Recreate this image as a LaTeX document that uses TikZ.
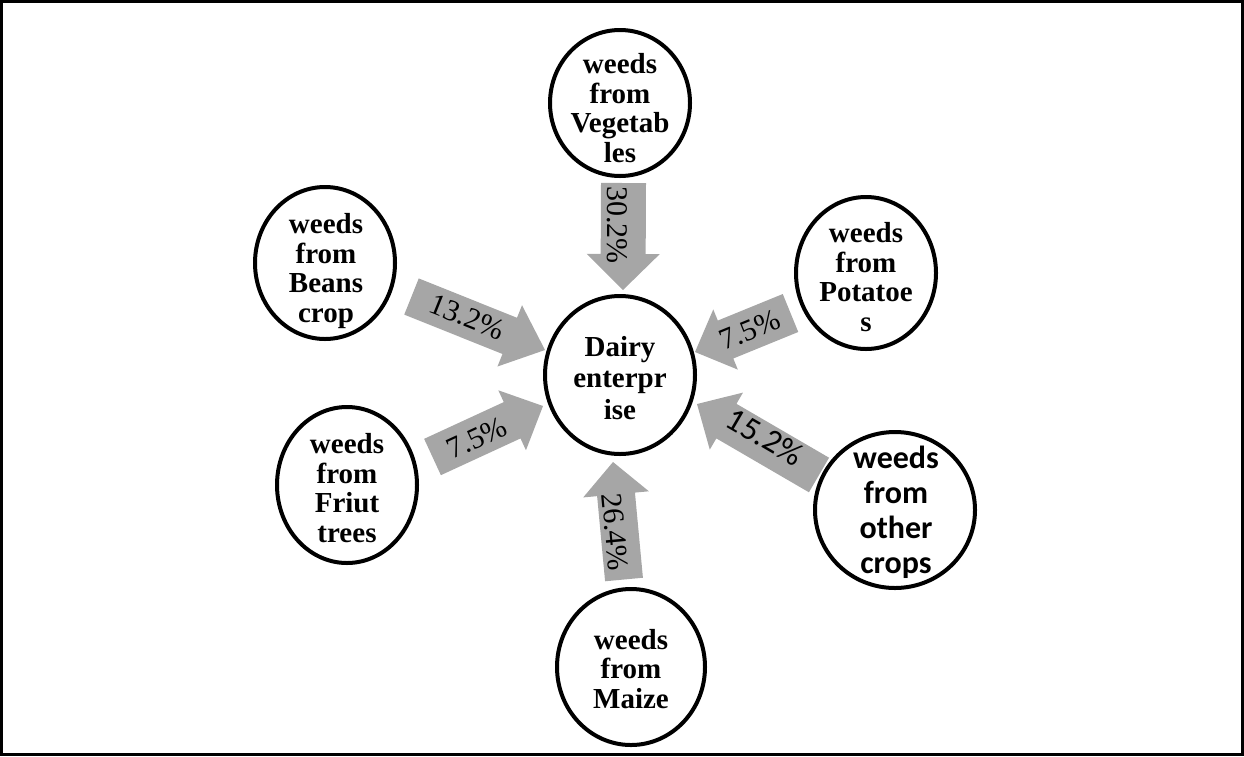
\documentclass[tikz,border=0pt]{standalone}
\usepackage{fontspec}
\setmainfont{Liberation Serif}
\newfontfamily\calib{Carlito}
\usetikzlibrary{calc,shapes.geometric}
\definecolor{arrgray}{HTML}{A6A6A6}
\newcommand\garrow[6]{%
  \coordinate (#6m) at ($(#2)!#5!(#1)$);
  \fill[arrgray] ($(#1)!#3!90:(#2)$) -- ($(#6m)!#3!90:(#2)$) -- ($(#6m)!#4!90:(#2)$) -- (#2)
    -- ($(#6m)!#4!-90:(#2)$) -- ($(#6m)!#3!-90:(#2)$) -- ($(#1)!#3!-90:(#2)$) -- cycle;}
\begin{document}
\begin{tikzpicture}[x=1pt,y=-1pt,
  circ/.style={draw=black,line width=4pt,ellipse,inner sep=0pt},
  ctext/.style={align=center,inner sep=0pt,font=\fontsize{29}{29.5}\selectfont\bfseries},
  lbl/.style={font=\fontsize{30}{30}\selectfont,inner sep=0pt}]
\useasboundingbox (0,0) rectangle (1244,756);
\draw[line width=3pt] (1.5,1.5) rectangle (1242.5,754.5);
% circles
\node[circ,minimum width=150pt,minimum height=158pt] (dairy) at (620,375) {};
\node[ctext,font=\fontsize{29}{31.5}\selectfont\bfseries] (dairyt) at (620,378) {Dairy\\enterpr\\ise};
\node[circ,minimum width=140pt,minimum height=146pt] (veg) at (620,103) {};
\node[ctext] (vegt) at (620,108) {weeds\\from\\Vegetab\\les};
\node[circ,minimum width=140pt,minimum height=152pt] (beans) at (325,263) {};
\node[ctext] (beanst) at (326,271) {weeds\\from\\Beans\\crop};
\node[circ,minimum width=140pt,minimum height=152pt] (pot) at (866,273) {};
\node[ctext] (pott) at (866,277) {weeds\\from\\Potatoe\\s};
\node[circ,minimum width=140pt,minimum height=156pt] (fruit) at (347,485) {};
\node[ctext] (fruitt) at (347,488) {weeds\\from\\Friut\\trees};
\node[circ,minimum width=160pt,minimum height=156pt] (other) at (895,510) {};
\node[ctext,font=\fontsize{32}{35}\calib\bfseries] (othert) at (896,512) {weeds\\from\\other\\crops};
\node[circ,minimum width=148pt,minimum height=156pt] (maize) at (631,667) {};
\node[ctext] (maizet) at (631,669) {weeds\\from\\Maize};
% arrows
\coordinate (b1) at (623.5,183); \coordinate (t1) at (623,290);
\garrow{b1}{t1}{22.5pt}{36.5pt}{36pt}{a1}
\node[lbl,rotate=-90] (l1) at (617,225) {30.2\%};
\coordinate (b2) at (411.5,296.5); \coordinate (t2) at (545,350);
\garrow{b2}{t2}{19.5pt}{33pt}{38pt}{a2}
\node[lbl,rotate=-21.8] (l2) at (467,317) {13.2\%};
\coordinate (b3) at (790.5,313); \coordinate (t3) at (695,352);
\garrow{b3}{t3}{20.5pt}{32.5pt}{33pt}{a3}
\node[lbl,rotate=22.2] (l3) at (750,330) {7.5\%};
\coordinate (b4) at (432.5,457); \coordinate (t4) at (543,406);
\garrow{b4}{t4}{20pt}{33pt}{34pt}{a4}
\node[lbl,rotate=24.8] (l4) at (477,438) {7.5\%};
\coordinate (b5) at (624,579.5); \coordinate (t5) at (613,462);
\garrow{b5}{t5}{19pt}{33pt}{32.5pt}{a5}
\node[lbl,rotate=-84.7] (l5) at (615,532) {26.4\%};
\coordinate (b6) at (819,475); \coordinate (t6) at (697,404);
\garrow{b6}{t6}{20pt}{33pt}{34pt}{a6}
\node[lbl,rotate=-30.2,font=\fontsize{33}{33}\calib] (l6) at (765,437) {15.2\%};
\end{tikzpicture}
\end{document}
